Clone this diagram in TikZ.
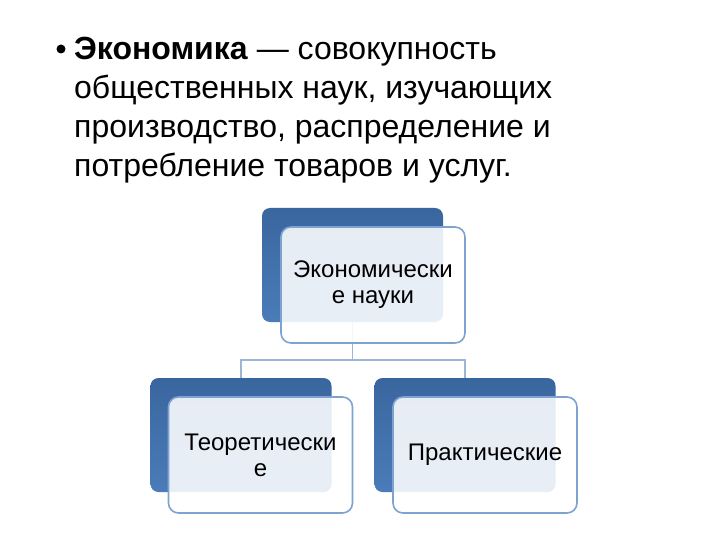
\documentclass[tikz,border=0pt]{standalone}
\usepackage{fontspec}
\setmainfont{Liberation Sans}
\begin{document}
\begin{tikzpicture}[x=1bp,y=-1bp,
  txt/.style={inner sep=0pt, anchor=base west, font=\fontsize{32bp}{39bp}\selectfont},
  darkbox/.style={rounded corners=8bp, minimum width=181bp, minimum height=114bp, inner sep=0pt,
     top color=darkT, bottom color=darkB, draw=none},
  litebox/.style={rounded corners=10bp, minimum width=184bp, minimum height=116bp, inner sep=0pt,
     draw=edge, line width=1.6bp, fill=white, fill opacity=0.88, text opacity=1,
     align=center, font=\fontsize{24bp}{26bp}\selectfont},
  conn/.style={draw=connc, line width=1.4bp}]
\definecolor{darkT}{HTML}{3A669F}
\definecolor{darkB}{HTML}{4A7CB9}
\definecolor{edge}{HTML}{7FA3D1}
\definecolor{connc}{HTML}{9DB6D8}
\useasboundingbox[fill=white] (0,0) rectangle (720,540);
% bullet text
\node[circle, fill=black, inner sep=0pt, minimum size=9bp] (bul) at (61,49) {};
\node[txt] (l1) at (74,59.3) {\textbf{Экономика} — совокупность};
\node[txt] (l2) at (74,98.3) {общественных наук, изучающих};
\node[txt] (l3) at (74,137.3) {производство, распределение и};
\node[txt] (l4) at (74,176.3) {потребление товаров и услуг.};
% dark boxes
\node[darkbox] (tdark) at (352.5,265) {};
\node[darkbox] (ldark) at (241,435) {};
\node[darkbox] (rdark) at (465,435) {};
% connectors
\coordinate (bar) at (0,360);
\draw[conn] (tdark.south) -- (tdark.south |- bar) -| (ldark.north);
\draw[conn] (tdark.south |- bar) -| (rdark.north);
% light boxes
\node[litebox] (tlite) at (373,285) {Экономически\\е науки};
\node[litebox] (llite) at (260.5,455) {Теоретически\\е};
\node[litebox] (rlite) at (485,455) {Практические};
\end{tikzpicture}
\end{document}
